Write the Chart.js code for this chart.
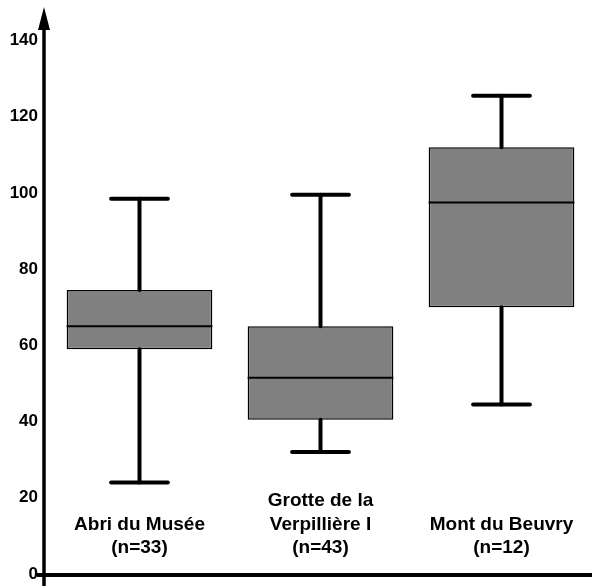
<!DOCTYPE html>
<html>
<head>
<meta charset="utf-8">
<script src="https://cdn.jsdelivr.net/npm/chart.js@4.4.1/dist/chart.umd.min.js"></script>
<style>
  html, body { margin: 0; padding: 0; background: #fff; }
  #wrap { width: 592px; height: 586px; }
</style>
</head>
<body>
<div id="wrap"><canvas id="boxChart"></canvas></div>
<script>
// site names, one line per array entry
var categories = [
	['Abri du Musée'],
	['Grotte de la', 'Verpillière I'],
	['Mont du Beuvry']
];
var counts = [33, 43, 12];

// box plot values
var mins    = [24, 32, 44.5];
var q1s     = [59, 40.5, 70];
var medians = [65, 51.5, 97.5];
var q3s     = [74.5, 65, 112];
var maxs    = [98.5, 99.5, 125.5];

var yTicks = [0, 20, 40, 60, 80, 100, 120, 140];

var fontFam = '"Liberation Sans", Arial, Helvetica, sans-serif';

var boxes = [];
for (var i = 0; i < q1s.length; i++) {
	boxes.push([q1s[i], q3s[i]]);
}

var boxPlotPlugin = {
	id: 'boxPlotPlugin',
	afterDatasetsDraw: function(chart) {
		var ctx = chart.ctx;
		var y = chart.scales.y;
		var meta = chart.getDatasetMeta(0);
		ctx.save();
		ctx.strokeStyle = '#000';
		meta.data.forEach(function(bar, i) {
			var cx = bar.x;
			var half = bar.width / 2;
			// whiskers
			ctx.lineWidth = 4;
			ctx.lineCap = 'round';
			ctx.beginPath();
			ctx.moveTo(cx, y.getPixelForValue(q3s[i]));
			ctx.lineTo(cx, y.getPixelForValue(maxs[i]));
			ctx.moveTo(cx, y.getPixelForValue(q1s[i]));
			ctx.lineTo(cx, y.getPixelForValue(mins[i]));
			ctx.stroke();
			// caps
			var capHalf = bar.width * 0.195;
			ctx.beginPath();
			ctx.moveTo(cx - capHalf, y.getPixelForValue(maxs[i]));
			ctx.lineTo(cx + capHalf, y.getPixelForValue(maxs[i]));
			ctx.moveTo(cx - capHalf, y.getPixelForValue(mins[i]));
			ctx.lineTo(cx + capHalf, y.getPixelForValue(mins[i]));
			ctx.stroke();
			// median
			ctx.lineWidth = 2;
			ctx.lineCap = 'butt';
			ctx.beginPath();
			ctx.moveTo(cx - half, y.getPixelForValue(medians[i]));
			ctx.lineTo(cx + half, y.getPixelForValue(medians[i]));
			ctx.stroke();
		});

		// category labels inside the plot
		ctx.fillStyle = '#000';
		ctx.font = 'bold 19px ' + fontFam;
		ctx.textAlign = 'center';
		ctx.textBaseline = 'middle';
		var lineH = 23.5;
		var bottomLine = y.getPixelForValue(0) - 26;
		categories.forEach(function(lines, i) {
			var cx = meta.data[i].x;
			var all = lines.concat(['(n=' + counts[i] + ')']);
			all.forEach(function(txt, k) {
				ctx.fillText(txt, cx, bottomLine - (all.length - 1 - k) * lineH);
			});
		});
		ctx.restore();
	},
	afterDraw: function(chart) {
		var ctx = chart.ctx;
		var area = chart.chartArea;
		var y0 = chart.scales.y.getPixelForValue(0);
		var ax = area.left - 5;
		ctx.save();
		ctx.strokeStyle = '#000';
		ctx.fillStyle = '#000';
		ctx.lineWidth = 3.5;
		// y axis, running a bit below the x axis
		ctx.beginPath();
		ctx.moveTo(ax, 26);
		ctx.lineTo(ax, chart.height);
		ctx.stroke();
		// x axis, sticking out left of the y axis
		ctx.lineWidth = 4;
		ctx.beginPath();
		ctx.moveTo(ax - 7, y0 + 1);
		ctx.lineTo(chart.width, y0 + 1);
		ctx.stroke();
		// arrow head
		ctx.beginPath();
		ctx.moveTo(ax, 7);
		ctx.lineTo(ax - 6, 30);
		ctx.lineTo(ax + 6, 30);
		ctx.closePath();
		ctx.fill();
		ctx.restore();
	}
};

new Chart(document.getElementById('boxChart'), {
	type: 'bar',
	data: {
		labels: categories,
		datasets: [{
			data: boxes,
			backgroundColor: '#808080',
			borderColor: '#000',
			borderWidth: 1.5,
			borderSkipped: false,
			barPercentage: 0.805,
			categoryPercentage: 1
		}]
	},
	options: {
		responsive: true,
		maintainAspectRatio: false,
		animation: false,
		layout: { padding: { top: 10, bottom: 12, right: 0, left: 0 } },
		plugins: {
			legend: { display: false },
			tooltip: { enabled: false }
		},
		scales: {
			x: {
				display: false
			},
			y: {
				min: 0,
				max: 148,
				afterFit: function(scale) {
					scale.width = 49;
					scale.paddingTop = 0;
					scale.paddingBottom = 0;
				},
				afterBuildTicks: function(scale) {
					scale.ticks = yTicks.map(function(v) { return { value: v }; });
				},
				grid: { display: false, drawTicks: false },
				border: { display: false },
				ticks: {
					padding: 11,
					color: '#000',
					font: { family: fontFam, size: 17, weight: 'bold' }
				}
			}
		}
	},
	plugins: [boxPlotPlugin]
});
</script>
</body>
</html>
